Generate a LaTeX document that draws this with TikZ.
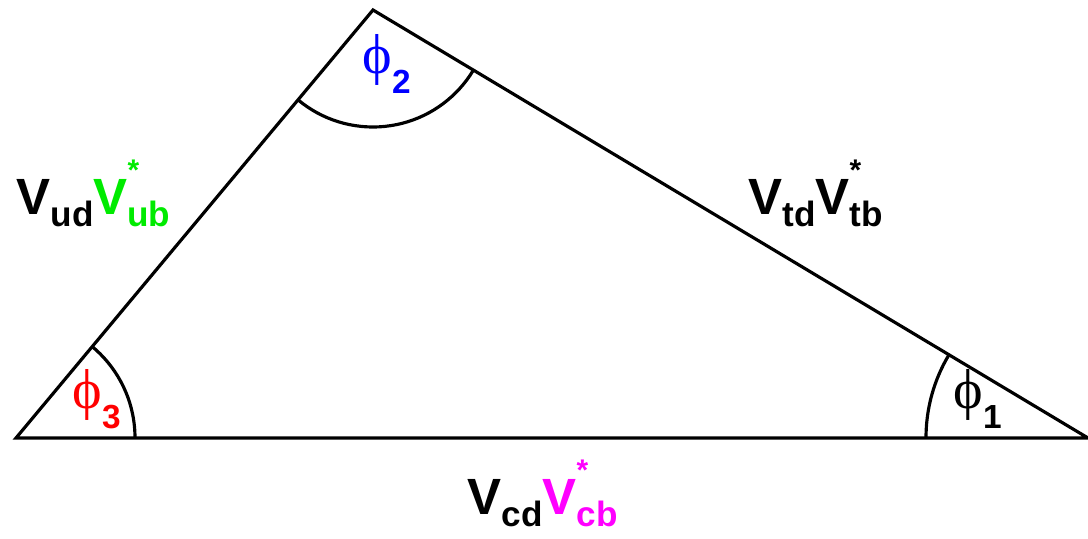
\documentclass[tikz,border=0pt]{standalone}
\usepackage{fontspec}
\setmainfont{Liberation Sans}
\newfontfamily\phifont{Liberation Serif}
\usetikzlibrary{positioning}
\definecolor{ckmgreen}{RGB}{0,235,0}
\definecolor{ckmmagenta}{RGB}{255,0,255}
\definecolor{ckmblue}{RGB}{0,0,255}
\definecolor{ckmred}{RGB}{255,0,0}
\newcommand{\Vsub}[1]{V\raisebox{-6.8pt}{\fontsize{20}{20}\selectfont #1}}
\newcommand{\Vstar}[1]{V\rlap{\raisebox{19.5pt}{\fontsize{17}{17}\selectfont *}}\raisebox{-6.8pt}{\fontsize{20}{20}\selectfont #1}}
\newcommand{\phiang}[1]{{\phifont ϕ}\raisebox{-11pt}{\fontsize{19}{19}\bfseries\selectfont #1}}

\begin{document}
\begin{tikzpicture}[line width=1.8pt,
  lbl/.style={anchor=base west,inner sep=0pt,font=\fontsize{29}{29}\bfseries\selectfont},
  ang/.style={anchor=base west,inner sep=0pt,font=\fontsize{32}{32}\selectfont}]
  \useasboundingbox (0,0) rectangle (21.76,10.78);
  % unitarity triangle
  \coordinate (A) at (0.32,2.02);
  \coordinate (B) at (7.46,10.58);
  \coordinate (C) at (21.76,2.02);
  \draw (A) -- (B) -- (C) -- cycle;
  % angle arcs
  \begin{scope}
    \clip (A) -- (B) -- (C) -- cycle;
    \draw (A) circle[radius=2.38];
    \draw (B) circle[radius=2.34];
    \draw (C) circle[radius=3.24];
  \end{scope}
  % angles
  \node[ang,ckmred] (phithree) at (1.42,2.6) {\phiang{3}};
  \node[ang,ckmblue] (phitwo) at (7.22,9.3) {\phiang{2}};
  \node[ang] (phione) at (19.04,2.6) {\phiang{1}};
  % sides
  \node[lbl] (sideud) at (0.3,6.48) {\Vsub{ud}\textcolor{ckmgreen}{\Vstar{ub}}};
  \node[lbl] (sidetd) at (14.94,6.48) {\Vsub{td}\Vstar{tb}};
  \node[lbl] (sidecd) at (9.32,0.48) {\Vsub{cd}\textcolor{ckmmagenta}{\Vstar{cb}}};
\end{tikzpicture}
\end{document}
